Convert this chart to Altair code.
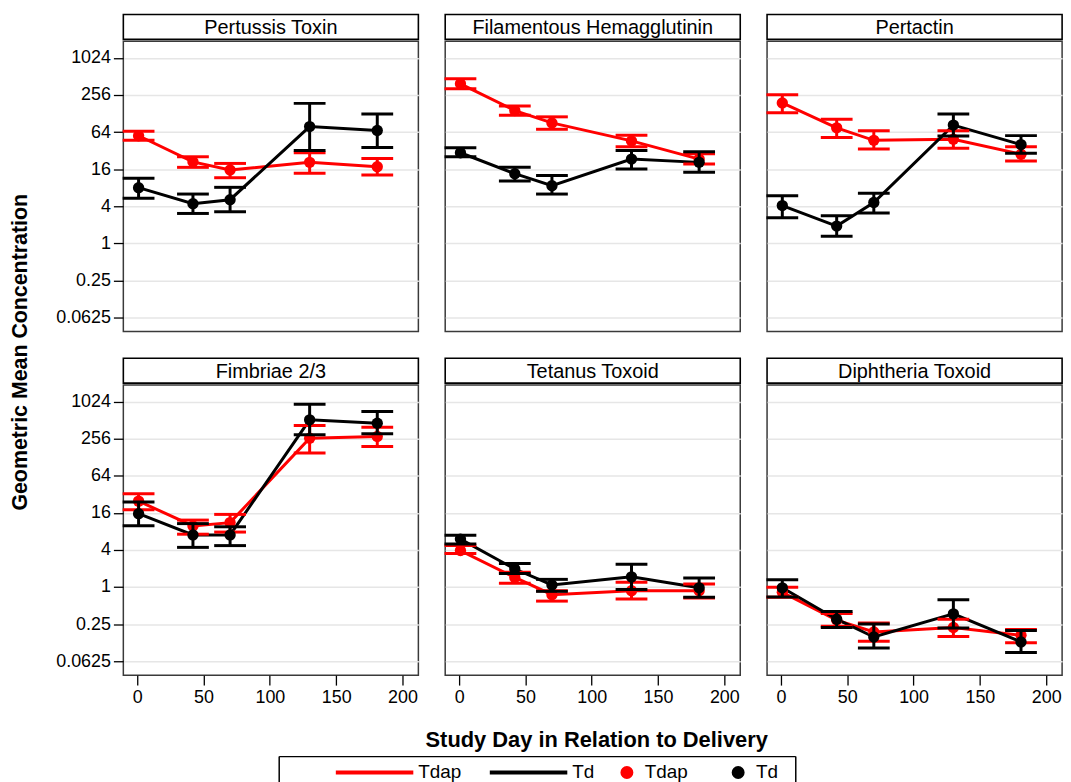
import altair as alt
import pandas as pd

FONT = "Liberation Sans"

# ---------------- data ----------------
days = [1, 42, 70, 130, 181]
groups = ["Tdap", "Td"]
panels = ["Pertussis Toxin", "Filamentous Hemagglutinin", "Pertactin",
          "Fimbriae 2/3", "Tetanus Toxoid", "Diphtheria Toxoid"]

# Pertussis Toxin
pt_tdap_gmc = [55.7, 21.0, 15.5, 20.6, 17.5]
pt_tdap_lo = [47.0, 17.1, 11.6, 13.7, 12.9]
pt_tdap_hi = [66.0, 25.4, 19.8, 29.5, 23.9]
pt_td_gmc = [8.0, 4.4, 5.1, 78.6, 67.8]
pt_td_lo = [5.4, 3.05, 3.25, 32.0, 36.0]
pt_td_hi = [11.4, 6.3, 8.1, 187.0, 126.0]

# Filamentous Hemagglutinin
fha_tdap_gmc = [388.0, 143.0, 90.0, 46.0, 23.3]
fha_tdap_lo = [323.0, 120.0, 71.0, 37.0, 19.4]
fha_tdap_hi = [468.0, 170.0, 113.0, 57.0, 28.4]
fha_td_gmc = [29.5, 13.5, 8.6, 23.3, 20.6]
fha_td_lo = [25.4, 10.3, 6.3, 16.1, 14.2]
fha_td_hi = [35.5, 17.1, 12.6, 32.2, 30.7]

# Pertactin
prn_tdap_gmc = [190.0, 75.0, 47.0, 49.0, 28.0]
prn_tdap_lo = [132.0, 52.0, 34.0, 35.0, 21.7]
prn_tdap_hi = [258.0, 103.0, 67.0, 67.0, 37.0]
prn_td_gmc = [4.1, 1.9, 4.6, 83.0, 40.0]
prn_td_lo = [2.6, 1.3, 3.1, 55.0, 29.0]
prn_td_hi = [5.9, 2.8, 6.5, 126.0, 56.0]

# Fimbriae 2/3
fim_tdap_gmc = [24.8, 9.8, 11.1, 261.0, 278.0]
fim_tdap_lo = [18.0, 7.2, 7.8, 150.0, 191.0]
fim_tdap_hi = [32.7, 12.2, 15.1, 420.0, 393.0]
fim_td_gmc = [15.5, 7.0, 7.0, 518.0, 458.0]
fim_td_lo = [9.9, 4.4, 4.7, 296.0, 307.0]
fim_td_hi = [24.0, 10.7, 9.5, 928.0, 705.0]

# Tetanus Toxoid
tt_tdap_gmc = [3.9, 1.43, 0.75, 0.87, 0.87]
tt_tdap_lo = [3.5, 1.15, 0.59, 0.64, 0.66]
tt_tdap_hi = [4.7, 1.73, 0.87, 1.19, 1.12]
tt_td_gmc = [6.0, 1.96, 1.08, 1.46, 0.97]
tt_td_lo = [5.0, 1.66, 0.85, 0.91, 0.68]
tt_td_hi = [6.9, 2.4, 1.33, 2.35, 1.4]

# Diphtheria Toxoid
dt_tdap_gmc = [0.82, 0.29, 0.186, 0.22, 0.164]
dt_tdap_lo = [0.68, 0.23, 0.131, 0.157, 0.124]
dt_tdap_hi = [0.99, 0.37, 0.26, 0.30, 0.205]
dt_td_gmc = [0.97, 0.30, 0.154, 0.366, 0.128]
dt_td_lo = [0.69, 0.22, 0.102, 0.215, 0.086]
dt_td_hi = [1.31, 0.40, 0.25, 0.62, 0.197]

y_ticks = [0.0625, 0.25, 1, 4, 16, 64, 256, 1024]
x_ticks = [0, 50, 100, 150, 200]

legend_labels = ["Tdap", "Td", "Tdap", "Td"]
legend_kinds = ["line", "line", "dot", "dot"]
legend_groups = ["Tdap", "Td", "Tdap", "Td"]

series = {
    "Pertussis Toxin": [(pt_tdap_gmc, pt_tdap_lo, pt_tdap_hi), (pt_td_gmc, pt_td_lo, pt_td_hi)],
    "Filamentous Hemagglutinin": [(fha_tdap_gmc, fha_tdap_lo, fha_tdap_hi), (fha_td_gmc, fha_td_lo, fha_td_hi)],
    "Pertactin": [(prn_tdap_gmc, prn_tdap_lo, prn_tdap_hi), (prn_td_gmc, prn_td_lo, prn_td_hi)],
    "Fimbriae 2/3": [(fim_tdap_gmc, fim_tdap_lo, fim_tdap_hi), (fim_td_gmc, fim_td_lo, fim_td_hi)],
    "Tetanus Toxoid": [(tt_tdap_gmc, tt_tdap_lo, tt_tdap_hi), (tt_td_gmc, tt_td_lo, tt_td_hi)],
    "Diphtheria Toxoid": [(dt_tdap_gmc, dt_tdap_lo, dt_tdap_hi), (dt_td_gmc, dt_td_lo, dt_td_hi)],
}

rows = []
for p in panels:
    for g, (gm, lo, hi) in zip(groups, series[p]):
        for d, a, b, c in zip(days, gm, lo, hi):
            rows.append({"panel": p, "grp": g, "day": d, "gmc": a, "lo": b, "hi": c})
df = pd.DataFrame(rows)

# ---------------- styling ----------------
W, H, HH = 297, 292, 25
XDOM = [-10.5, 212]
YDOM = [0.037, 1900]
RED, BLACK = "#ff0000", "#000000"
color_scale = alt.Scale(domain=groups, range=[RED, BLACK])
col = alt.Color("grp:N", scale=color_scale, legend=None)


def make_panel(name, r, c):
    d = df[df.panel == name]
    show_x = r == 1
    show_y = c == 0
    xaxis = alt.Axis(values=x_ticks, labels=show_x, ticks=show_x, tickSize=10,
                     tickColor="black", tickWidth=1.3, labelFontSize=18,
                     labelColor="black", labelFont=FONT, labelPadding=4,
                     domain=False, grid=False, title=None)
    yaxis = alt.Axis(values=y_ticks, format="~g", labels=show_y, ticks=show_y,
                     tickSize=10, tickColor="black", tickWidth=1.3, labelFontSize=18,
                     labelColor="black", labelFont=FONT, labelPadding=3,
                     domain=False, grid=True, gridColor="#e6e6e6", gridWidth=1.5,
                     title=None)
    xs = alt.Scale(domain=XDOM, nice=False, zero=False)
    ys = alt.Scale(type="log", base=2, domain=YDOM, nice=False)
    X = alt.X("day:Q", scale=xs, axis=xaxis)
    base = alt.Chart(d)
    layers = []
    for g in groups:
        layers.append(
            base.transform_filter(alt.datum.grp == g).mark_line(strokeWidth=3).encode(
                x=X, y=alt.Y("gmc:Q", scale=ys, axis=yaxis), color=col))
    for g in groups:
        b = base.transform_filter(alt.datum.grp == g)
        layers.append(b.mark_rule(strokeWidth=3).encode(
            x=X, y=alt.Y("lo:Q", scale=ys, axis=yaxis), y2="hi:Q", color=col))
        layers.append(b.mark_tick(orient="horizontal", size=32, thickness=3, opacity=1).encode(
            x=X, y=alt.Y("lo:Q", scale=ys, axis=yaxis), color=col))
        layers.append(b.mark_tick(orient="horizontal", size=32, thickness=3, opacity=1).encode(
            x=X, y=alt.Y("hi:Q", scale=ys, axis=yaxis), color=col))
        layers.append(b.mark_circle(size=130, opacity=1).encode(
            x=X, y=alt.Y("gmc:Q", scale=ys, axis=yaxis), color=col))
    plot = alt.layer(*layers).properties(
        width=W, height=H,
        view=alt.ViewBackground(stroke="#3a3a3a", strokeWidth=1.5, fill="white"))
    header = alt.Chart(pd.DataFrame({"t": [name]})).mark_text(
        font=FONT, fontSize=20, color="black", align="center", baseline="middle"
    ).encode(text="t:N", x=alt.value(W / 2), y=alt.value(HH / 2 + 1)).properties(
        width=W, height=HH,
        view=alt.ViewBackground(stroke="black", strokeWidth=1.6, fill="white"))
    return alt.vconcat(header, plot, spacing=0)


row1 = alt.hconcat(*[make_panel(panels[i], 0, i) for i in range(3)], spacing=24)
row2 = alt.hconcat(*[make_panel(panels[3 + i], 1, i) for i in range(3)], spacing=24)
grid = alt.vconcat(row1, row2, spacing=25).properties(
    title=alt.TitleParams("Study Day in Relation to Delivery", orient="bottom",
                          anchor="middle", font=FONT, fontSize=22, fontWeight="bold",
                          color="black", offset=23, dx=38))

# ---------------- legend box (three-sided, bottom edge runs off the page) ----------------
LW, LH, LW_VIEW = 520, 24, 632
leg_df = pd.DataFrame({"slot": list(range(4)), "label": legend_labels,
                       "kind": legend_kinds, "grp": legend_groups})
lb = alt.Chart(leg_df)
line_items = lb.transform_filter(alt.datum.kind == "line")
dot_items = lb.transform_filter(alt.datum.kind == "dot")
LX_line = alt.X("slot:O", scale=alt.Scale(type="point", padding=0, range=[140, 295]), axis=None)
LX_dot = alt.X("slot:O", scale=alt.Scale(type="point", padding=0, range=[368, 480]), axis=None)
YI = alt.value(11)
leg_line = line_items.mark_rule(strokeWidth=4, xOffset=-83, x2Offset=-5).encode(
    x=LX_line, x2="slot:O", y=YI, color=col)
leg_line_txt = line_items.mark_text(
    font=FONT, fontSize=19, align="left", baseline="middle", color="black").encode(
    x=LX_line, y=YI, text="label:N")
leg_lines = alt.layer(leg_line, leg_line_txt)
leg_dot = dot_items.mark_circle(size=170, opacity=1, xOffset=-18).encode(
    x=LX_dot, y=YI, color=col)
leg_dot_txt = dot_items.mark_text(
    font=FONT, fontSize=19, align="left", baseline="middle", color="black").encode(
    x=LX_dot, y=YI, text="label:N")
leg_dots = alt.layer(leg_dot, leg_dot_txt)
frame_src = alt.Chart(pd.DataFrame({"k": [0]}))
frame_top = frame_src.mark_rule(color="black", strokeWidth=1.5).encode(
    x=alt.value(0), x2=alt.value(LW), y=alt.value(-5))
frame_left = frame_src.mark_rule(color="black", strokeWidth=1.5).encode(
    x=alt.value(0), y=alt.value(-5), y2=alt.value(LH))
frame_right = frame_src.mark_rule(color="black", strokeWidth=1.5).encode(
    x=alt.value(LW), y=alt.value(-5), y2=alt.value(LH))
legend = alt.layer(frame_top, frame_left, frame_right, leg_lines, leg_dots).resolve_scale(
    x="independent").properties(
    width=LW_VIEW, height=LH, view=alt.ViewBackground(stroke=None, fill=None))

chart = alt.vconcat(grid, legend, spacing=4, center=True).properties(
    padding={"left": 2, "top": 3, "right": 0, "bottom": 0},
    title=alt.TitleParams("Geometric Mean Concentration", orient="left", anchor="middle",
                          font=FONT, fontSize=21.5, fontWeight="bold", color="black",
                          offset=23.5, dx=48)
).configure(background="white")

chart.save("out.html", embed_options={"renderer": "svg", "actions": False})
